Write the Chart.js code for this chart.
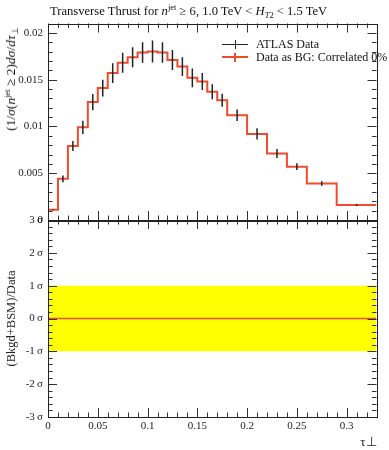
<!DOCTYPE html>
<html><head><meta charset="utf-8">
<script src="https://cdn.jsdelivr.net/npm/chart.js@4.4.1/dist/chart.umd.min.js"></script>
<style>
html,body{margin:0;padding:0;background:#fff;}
body{width:389px;height:450px;overflow:hidden;position:relative;font-family:"Liberation Serif",serif;color:#111;}
canvas{position:absolute;left:0;}
#c1{top:0;}
#c2{top:200px;}
.t{position:absolute;white-space:nowrap;line-height:14px;}
.t sup{font-size:8.5px;vertical-align:5px;line-height:0;}
.t sub{font-size:8.5px;vertical-align:-3px;line-height:0;}
.b{position:absolute;}
</style></head><body>
<canvas id="c1" width="389" height="232"></canvas>
<canvas id="c2" width="389" height="250"></canvas>
<div class="t" style="left:50px;top:3.5px;font-size:12.6px;">Transverse Thrust for <i>n</i><sup>jet</sup> ≥ 6, 1.0 TeV &lt; <i>H</i><sub><i>T</i>2</sub> &lt; 1.5 TeV</div>
<div class="t" style="left:11px;top:79px;font-size:13.5px;transform:translate(-50%,-50%) rotate(-90deg);">(1/<i>σ</i>(<i>n</i><sup>jet</sup> ≥ 2)<i>dσ</i>/<i>dτ</i><sub>⊥</sub></div>
<div class="b" style="left:222px;top:44px;width:26px;height:1.3px;background:#222;"></div>
<div class="b" style="left:234.5px;top:40px;width:1.3px;height:9px;background:#222;"></div>
<div class="t" style="left:256px;top:37px;font-size:12px;">ATLAS Data</div>
<div class="b" style="left:222px;top:56px;width:26px;height:2px;background:#ef4b2f;"></div>
<div class="b" style="left:234px;top:52.5px;width:1.5px;height:9px;background:#ef4b2f;"></div>
<div class="t" style="left:256px;top:50px;font-size:12px;">Data as BG: Correlated 0%</div>
<script>
// ---- data ----
const binEdges = [0, 0.01, 0.02, 0.03, 0.04, 0.05, 0.06, 0.07, 0.08, 0.09, 0.10, 0.11, 0.12, 0.13, 0.14, 0.15, 0.16, 0.17, 0.18, 0.20, 0.22, 0.24, 0.26, 0.29, 0.33];
const dataValues = [0.0011, 0.0044, 0.0079, 0.0099, 0.0126, 0.0141, 0.0157, 0.0168, 0.0174, 0.0179, 0.0180, 0.0179, 0.0171, 0.0164, 0.0152, 0.0148, 0.0137, 0.0128, 0.0112, 0.0092, 0.0071, 0.0057, 0.0039, 0.0016];
const dataErrors = [0.00005, 0.00036, 0.00053, 0.0007, 0.00086, 0.0009, 0.00105, 0.00107, 0.00107, 0.0011, 0.00117, 0.0011, 0.00107, 0.001, 0.001, 0.0009, 0.0008, 0.0007, 0.00062, 0.0006, 0.00048, 0.00036, 0.00025, 0.0001];
const bgValues = [0.0011, 0.0044, 0.0079, 0.0099, 0.0126, 0.0141, 0.0157, 0.0168, 0.0174, 0.0179, 0.0180, 0.0179, 0.0171, 0.0164, 0.0152, 0.0148, 0.0137, 0.0128, 0.0112, 0.0092, 0.0071, 0.0057, 0.0039, 0.0016];
const ratioBand = [-1, 1];
const ratioCentral = [0, 0];
const xTickLabels = [0, 0.05, 0.1, 0.15, 0.2, 0.25, 0.3];
const xMinorTicks = [0.01,0.02,0.03,0.04,0.06,0.07,0.08,0.09,0.11,0.12,0.13,0.14,0.16,0.17,0.18,0.19,0.21,0.22,0.23,0.24,0.26,0.27,0.28,0.29,0.31,0.32];
const topYTickLabels = [0, 0.005, 0.01, 0.015, 0.02];
const topYMinorTicks = [0.001,0.002,0.003,0.004,0.006,0.007,0.008,0.009,0.011,0.012,0.013,0.014,0.016,0.017,0.018,0.019];
const ratioYTickLabels = [-3, -2, -1, 0, 1, 2, 3];
const ratioYMinorTicks = [-2.8,-2.6,-2.4,-2.2,-1.8,-1.6,-1.4,-1.2,-0.8,-0.6,-0.4,-0.2,0.2,0.4,0.6,0.8,1.2,1.4,1.6,1.8,2.2,2.4,2.6,2.8];

const X_MIN = 0, X_MAX = 0.33;
const FONT = "'Liberation Serif', serif";
const RED = '#ef4b2f';

// derived structures for the library
const stepPts = binEdges.map((e, i) => ({x: e, y: bgValues[Math.min(i, bgValues.length - 1)]}));
const errPts = [];
dataValues.forEach((v, i) => {
  const c = (binEdges[i] + binEdges[i + 1]) / 2;
  errPts.push({x: c, y: v - dataErrors[i]}, {x: c, y: v + dataErrors[i]}, {x: c, y: null});
});

const frameTicks = {
  id: 'frameTicks',
  afterDatasetsDraw(chart, args, o) {
    const {ctx, chartArea: a, scales} = chart;
    const xs = scales.x, ys = scales.y;
    ctx.save();
    ctx.strokeStyle = '#333';
    ctx.lineWidth = 1;
    const MJ = 9, MN = 4.5;
    const vline = (px, len) => {
      ctx.beginPath();
      ctx.moveTo(px, a.bottom); ctx.lineTo(px, a.bottom - len);
      ctx.moveTo(px, a.top); ctx.lineTo(px, a.top + len);
      ctx.stroke();
    };
    const hline = (py, len) => {
      ctx.beginPath();
      ctx.moveTo(a.left, py); ctx.lineTo(a.left + len, py);
      ctx.moveTo(a.right, py); ctx.lineTo(a.right - len, py);
      ctx.stroke();
    };
    o.xMajor.forEach(v => vline(Math.round(xs.getPixelForValue(v)) + 0.5, MJ));
    o.xMinor.forEach(v => vline(Math.round(xs.getPixelForValue(v)) + 0.5, MN));
    o.yMajor.forEach(v => hline(Math.round(ys.getPixelForValue(v)) + 0.5, MJ));
    o.yMinor.forEach(v => hline(Math.round(ys.getPixelForValue(v)) + 0.5, MN));
    ctx.strokeStyle = '#222';
    ctx.strokeRect(Math.round(a.left) + 0.5, Math.round(a.top) + 0.5, Math.round(a.right - a.left), Math.round(a.bottom - a.top));
    ctx.restore();
  }
};

const tickFont = {family: FONT, size: 11};

new Chart(document.getElementById('c1'), {
  type: 'line',
  data: {datasets: [
    {label: 'ATLAS Data', data: errPts, borderColor: '#222', borderWidth: 1.5, pointRadius: 0, spanGaps: false, order: 0},
    {label: 'Data as BG: Correlated 0%', data: stepPts, borderColor: RED, borderWidth: 2, stepped: 'before', pointRadius: 0, order: 1}
  ]},
  options: {
    responsive: false, animation: false, events: [],
    layout: {padding: {left: 0, right: 12.5, top: 23.5, bottom: 12}},
    plugins: {legend: {display: false}, tooltip: {enabled: false},
      frameTicks: {xMajor: xTickLabels, xMinor: xMinorTicks, yMajor: topYTickLabels, yMinor: topYMinorTicks}},
    scales: {
      x: {type: 'linear', min: X_MIN, max: X_MAX, display: false},
      y: {type: 'linear', min: 0, max: 0.021,
        afterBuildTicks: s => { s.ticks = topYTickLabels.map(v => ({value: v})); },
        afterFit: s => { s.width = 48; },
        grid: {display: false, drawTicks: false}, border: {display: false},
        ticks: {padding: 5, font: tickFont, color: '#222', autoSkip: false, callback: v => String(v)}}
    }
  },
  plugins: [frameTicks]
});

new Chart(document.getElementById('c2'), {
  type: 'line',
  data: {datasets: [
    {label: 'Data as BG: Correlated 0%', data: [{x: X_MIN, y: ratioCentral[0]}, {x: X_MAX, y: ratioCentral[1]}], borderColor: RED, borderWidth: 1.6, pointRadius: 0, order: 0},
    {label: 'band+', data: [{x: X_MIN, y: ratioBand[1]}, {x: X_MAX, y: ratioBand[1]}], borderWidth: 0, borderColor: 'rgba(0,0,0,0)', backgroundColor: '#ffff00', fill: '+1', pointRadius: 0, order: 1},
    {label: 'band-', data: [{x: X_MIN, y: ratioBand[0]}, {x: X_MAX, y: ratioBand[0]}], borderWidth: 0, borderColor: 'rgba(0,0,0,0)', fill: false, pointRadius: 0, order: 2}
  ]},
  options: {
    responsive: false, animation: false, events: [],
    layout: {padding: {left: 0, right: 12.5, top: 20, bottom: 0}},
    plugins: {legend: {display: false}, tooltip: {enabled: false},
      frameTicks: {xMajor: xTickLabels, xMinor: xMinorTicks, yMajor: ratioYTickLabels, yMinor: ratioYMinorTicks}},
    scales: {
      x: {type: 'linear', min: X_MIN, max: X_MAX,
        afterBuildTicks: s => { s.ticks = xTickLabels.map(v => ({value: v})); },
        afterFit: s => { s.height = 33; },
        grid: {display: false, drawTicks: false}, border: {display: false},
        ticks: {padding: 3, font: tickFont, color: '#222', autoSkip: false, maxRotation: 0, callback: v => String(v)},
        title: {display: true, text: 'τ⊥', align: 'end', color: '#222', font: {family: FONT, size: 13}, padding: {top: 0, bottom: 0}}},
      y: {type: 'linear', min: -3, max: 3,
        afterBuildTicks: s => { s.ticks = ratioYTickLabels.map(v => ({value: v})); },
        afterFit: s => { s.width = 48; },
        grid: {display: false, drawTicks: false}, border: {display: false},
        ticks: {padding: 5, font: tickFont, color: '#222', autoSkip: false, callback: v => v + '\u2009σ'},
        title: {display: true, text: '(Bkgd+BSM)/Data', color: '#222', font: {family: FONT, size: 12.5}, padding: {top: 4, bottom: 0}}}
    }
  },
  plugins: [frameTicks]
});
</script>
</body></html>
